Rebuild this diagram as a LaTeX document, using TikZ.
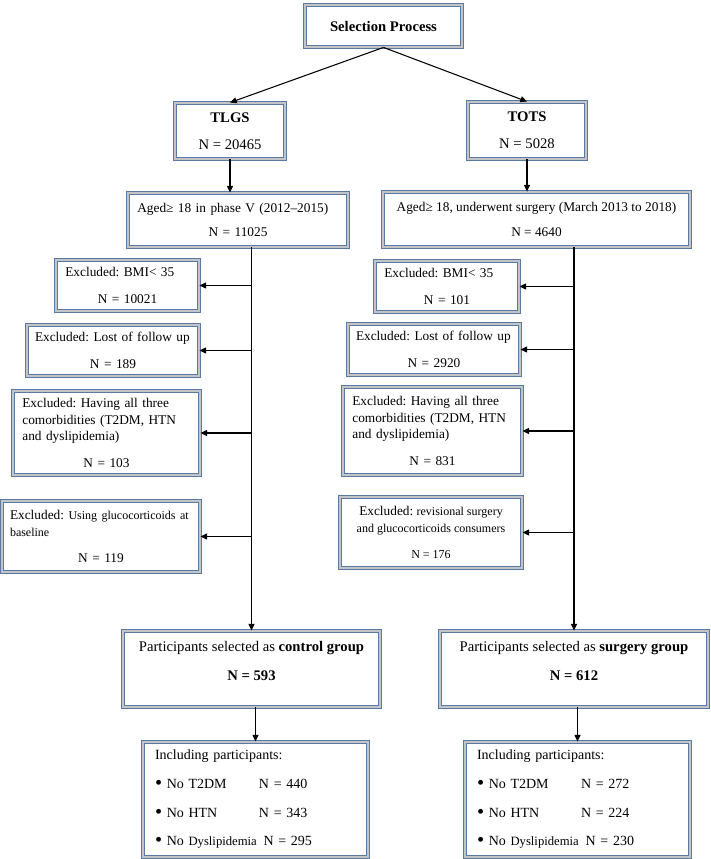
\documentclass[tikz,border=0pt]{standalone}
\usepackage{fontspec}
\setmainfont{Liberation Serif}
\usetikzlibrary{arrows.meta}
\frenchspacing

\definecolor{frameblue}{RGB}{88,122,166}
\definecolor{framegrey}{RGB}{196,196,196}

\tikzset{
  bevelbox/.style={draw=frameblue, line width=0.65pt, double=framegrey, double distance=2.2pt,
    fill=white, inner xsep=7pt, inner ysep=3pt, font=\fontsize{10}{12.5}\selectfont},
  arr/.style={-{Triangle[length=5pt,width=4.5pt]}, line width=0.8pt},
}
\newcommand{\nline}[1]{\makebox[\hsize]{#1}}
\newcommand{\incrow}[2]{\makebox[78pt][l]{\raisebox{-0.15ex}{\scalebox{1.45}{\textbullet}}\ #1}#2}

\begin{document}
\begin{tikzpicture}[x=0.75pt, y=-0.75pt]
    \useasboundingbox (0,0) rectangle (710,859);

    % Top
    \node[bevelbox, minimum width=117.75pt, minimum height=31.5pt,
          font=\bfseries\fontsize{11}{13}\selectfont] (sel) at (383.5,26) {Selection Process};
    \node[bevelbox, minimum width=82.5pt, minimum height=42pt, align=center,
          font=\fontsize{11}{13}\selectfont] (tlgs) at (230,131) {\textbf{TLGS}\\[7pt] N = 20465};
    \node[bevelbox, minimum width=88.5pt, minimum height=42.75pt, align=center,
          font=\fontsize{11}{13}\selectfont] (tots) at (527,130.5) {\textbf{TOTS}\\[7pt] N = 5028};

    \draw[arr] (sel.south) -- (tlgs.north);
    \draw[arr] (sel.south) -- (tots.north);

    % Eligible
    \node[bevelbox, minimum width=165pt, text width=151pt, minimum height=40.5pt, align=left]
        (agedL) at (238,220) {Aged≥ 18 in phase V (2012–2015)\\[6pt]\nline{N = 11025}};
    \node[bevelbox, minimum width=230.25pt, minimum height=41.25pt, align=center]
        (agedR) at (536.5,219.5) {Aged≥ 18, underwent surgery (March 2013 to 2018)\\[6pt] N = 4640};

    \draw[arr] (tlgs.south) -- (tlgs.south |- agedL.north);
    \draw[arr] (tots.south) -- (tots.south |- agedR.north);

    % Final groups
    \node[bevelbox, minimum width=192.75pt, minimum height=57pt, align=center, text depth=12pt,
          font=\fontsize{11}{13}\selectfont] (ctrl) at (251.5,669)
        {Participants selected as \textbf{control group}\\[9pt]\textbf{N = 593}};
    \node[bevelbox, minimum width=201pt, minimum height=57pt, align=center, text depth=12pt,
          font=\fontsize{11}{13}\selectfont] (surg) at (574,669)
        {Participants selected as \textbf{surgery group}\\[9pt]\textbf{N = 612}};

    % Exclusions (TLGS)
    \node[bevelbox, minimum width=107.25pt, text width=93.25pt, minimum height=38.25pt, align=left]
        (exL1) at (127.5,285.5) {Excluded: BMI< 35\\[7.5pt]\nline{N = 10021}};
    \node[bevelbox, minimum width=129pt, text width=117pt, minimum height=38.25pt, align=left, inner xsep=6pt]
        (exL2) at (113,350.5) {Excluded: Lost of follow up\\[7.5pt]\nline{N = 189}};
    \node[bevelbox, minimum width=140.25pt, text width=126.25pt, minimum height=63pt, align=left]
        (exL3) at (106.5,433) {Excluded: Having all three\\ comorbidities (T2DM, HTN\\ and dyslipidemia)\\[7.5pt]\nline{N = 103}};
    \node[bevelbox, minimum width=148.5pt, text width=136.5pt, minimum height=53.25pt, align=left, inner xsep=6pt]
        (exL4) at (101,536.5) {Excluded: {\fontsize{9}{11}\selectfont Using glucocorticoids at\\ baseline}\\[7.5pt]\nline{N = 119}};

    % Exclusions (TOTS)
    \node[bevelbox, minimum width=108pt, text width=94pt, minimum height=38.25pt, align=left]
        (exR1) at (447,286.5) {Excluded: BMI< 35\\[7.5pt]\nline{N = 101}};
    \node[bevelbox, minimum width=129pt, text width=117pt, minimum height=38.25pt, align=left, inner xsep=6pt]
        (exR2) at (434,349.5) {Excluded: Lost of follow up\\[7.5pt]\nline{N = 2920}};
    \node[bevelbox, minimum width=134.25pt, text width=120.25pt, minimum height=66pt, align=left]
        (exR3) at (432.5,431) {Excluded: Having all three\\ comorbidities (T2DM, HTN\\ and dyslipidemia)\\[7.5pt]\nline{N = 831}};
    \node[bevelbox, minimum width=136.5pt, minimum height=53.25pt, align=center]
        (exR4) at (431,532.5) {Excluded: {\fontsize{9}{11}\selectfont revisional surgery}\\
        {\fontsize{9}{11}\selectfont and glucocorticoids consumers}\\[7.5pt]{\fontsize{9}{11}\selectfont N = 176}};

    % Main flow lines
    \draw[arr] (ctrl.north |- agedL.south) -- (ctrl.north);
    \draw[arr] (surg.north |- agedR.south) -- (surg.north);
    \foreach \b in {exL1,exL2,exL3,exL4} {
        \draw[arr] (ctrl.north |- \b.east) -- (\b.east);
    }
    \foreach \b in {exR1,exR2,exR3,exR4} {
        \draw[arr] (surg.north |- \b.east) -- (\b.east);
    }

    % Included
    \node[bevelbox, minimum width=168.75pt, text width=150.75pt, minimum height=86.25pt, align=left,
          inner xsep=9pt, font=\fontsize{10.5}{12.5}\selectfont] (incL) at (255.5,799.5)
        {Including participants:\\[9pt]
         \incrow{No T2DM}{N = 440}\\[9pt]
         \incrow{No HTN}{N = 343}\\[9pt]
         \incrow{No {\fontsize{9.5}{11}\selectfont Dyslipidemia}}{\ N = 295}};
    \node[bevelbox, minimum width=168.75pt, text width=150.75pt, minimum height=86.25pt, align=left,
          inner xsep=9pt, font=\fontsize{10.5}{12.5}\selectfont] (incR) at (577.5,799.5)
        {Including participants:\\[9pt]
         \incrow{No T2DM}{N = 272}\\[9pt]
         \incrow{No HTN}{N = 224}\\[9pt]
         \incrow{No {\fontsize{9.5}{11}\selectfont Dyslipidemia}}{\ N = 230}};

    \draw[arr] (incL.north |- ctrl.south) -- (incL.north);
    \draw[arr] (incR.north |- surg.south) -- (incR.north);
\end{tikzpicture}
\end{document}
